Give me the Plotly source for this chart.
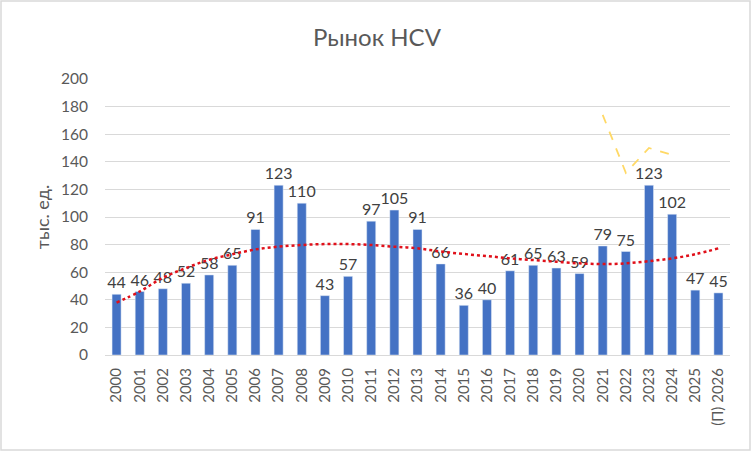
import plotly.graph_objects as go

years = [str(y) for y in range(2000, 2026)] + ["(П) 2026"]
values = [44, 46, 48, 52, 58, 65, 91, 123, 110, 43, 57, 97, 105, 91, 66,
          36, 40, 61, 65, 63, 59, 79, 75, 123, 102, 47, 45]
trend = [38, 46, 56, 63, 69, 73, 76.5, 78.5, 79.7, 80.4, 80.4, 79.7, 78.5, 77.3,
         75, 73.2, 71.7, 70, 68.8, 67.6, 66.4, 65.9, 66.4, 68, 70, 73, 77.3]
side_years = ["2021", "2022", "2023", "2024"]
side_values = [174, 132, 150, 145]

FONT = "Lato"
fig = go.Figure()
fig.add_trace(go.Bar(
    x=years, y=values, marker_color="#4472C4",
    text=[str(v) for v in values], textposition="outside", constraintext="none",
    textfont=dict(family=FONT, size=16, color="#404040"),
    cliponaxis=False, showlegend=False,
))
fig.add_trace(go.Scatter(
    x=years, y=trend, mode="lines", line=dict(color="#E0101A", width=2.5, dash="dot", shape="spline"),
    showlegend=False, hoverinfo="skip",
))
fig.add_trace(go.Scatter(
    x=side_years, y=side_values, mode="lines", line=dict(color="#FFD966", width=1.8, dash="dash"),
    showlegend=False,
))

W, H = 754, 452
ml, mr, mt, mb = 105, 24, 79, 97
pw, ph = W - ml - mr, H - mt - mb
fig.update_layout(
    width=W, height=H,
    margin=dict(l=ml, r=mr, t=mt, b=mb),
    paper_bgcolor="white", plot_bgcolor="white",
    bargap=0.61,
    title=dict(text="Рынок HCV", x=0.5, xanchor="center", xref="container", y=1 - 38 / H, yanchor="middle",
               yref="container", font=dict(family=FONT, size=24, color="#595959")),
    xaxis=dict(type="category", tickangle=-90, tickfont=dict(family=FONT, size=15, color="#595959"),
               showgrid=False, showline=True, linecolor="#D9D9D9", linewidth=1, ticks="",
               automargin=False, ticklabelstandoff=6),
    yaxis=dict(range=[0, 200], dtick=20, tickfont=dict(family=FONT, size=15.5, color="#595959"),
               showgrid=True, gridcolor="#D9D9D9", gridwidth=1, zeroline=False,
               title=dict(text="тыс. ед.", font=dict(family=FONT, size=18, color="#595959"), standoff=6),
               ticks="", ticklabelstandoff=16, automargin=False),
    shapes=[dict(type="rect", xref="paper", yref="paper",
                 x0=-(ml - 1) / pw, x1=1 + (mr - 4) / pw,
                 y0=-(mb - 2) / ph, y1=1 + (mt - 1) / ph,
                 line=dict(color="#D9D9D9", width=1.5))],
)
fig.write_html("out.html", config={"displayModeBar": False},
               post_script="document.body.style.margin='0';document.body.style.overflow='hidden';")
